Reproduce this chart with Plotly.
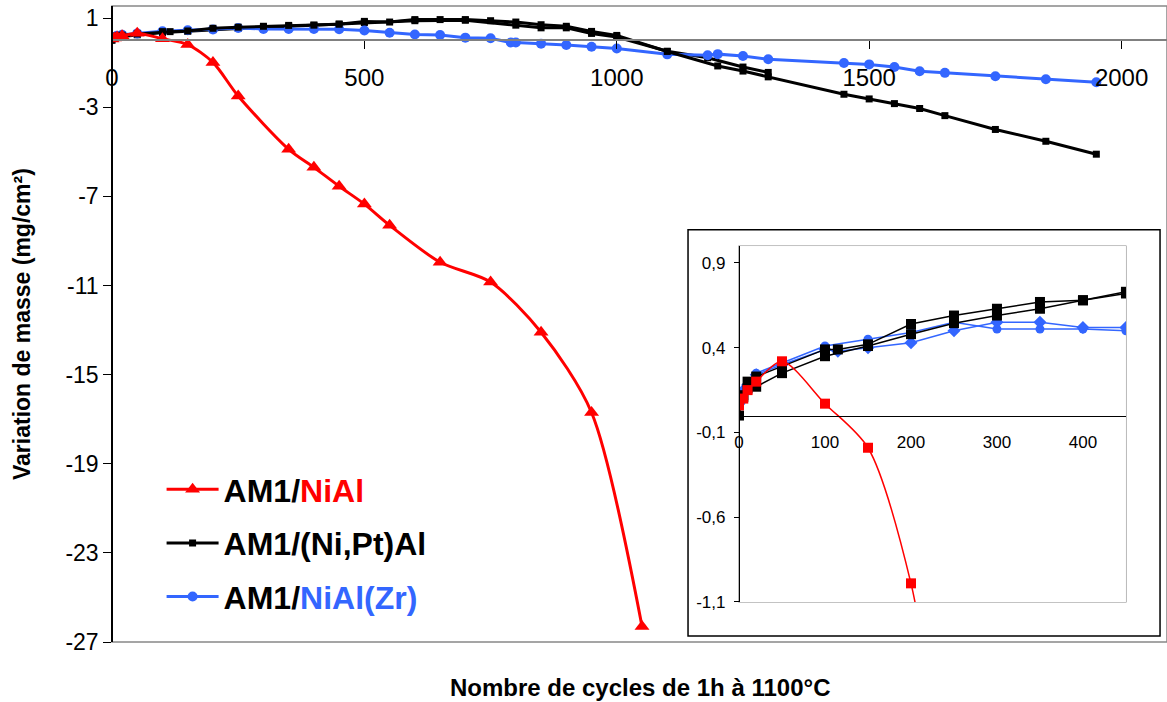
import plotly.graph_objects as go

# ---------------- data ----------------
cycles_nial = [0, 5, 10, 20, 50, 100, 150, 200, 250, 350, 400, 450, 500, 550, 650, 750, 850, 950, 1050]
mass_nial = [0.06, 0.1, 0.15, 0.2, 0.32, 0.07, -0.19, -0.99, -2.5, -4.89, -5.7, -6.55, -7.35, -8.3, -9.96, -10.85, -13.1, -16.7, -26.3]

cycles_pt_a = [0, 5, 10, 20, 50, 100, 115, 150, 200, 250, 300, 350, 400, 450, 500, 550, 600, 650, 700, 750,
               800, 850, 900, 950, 1000, 1100, 1200, 1250, 1300, 1450, 1500, 1550, 1600, 1650, 1750, 1850, 1950]
mass_pt_a = [0.0, 0.12, 0.2, 0.23, 0.29, 0.39, 0.39, 0.42, 0.54, 0.59, 0.63, 0.67, 0.68, 0.72, 0.85, 0.82, 0.93, 0.93, 0.93, 0.88,
             0.82, 0.7, 0.63, 0.4, 0.22, -0.5, -1.15, -1.38, -1.64, -2.42, -2.63, -2.84, -3.06, -3.38, -4.0, -4.53, -5.11]

cycles_pt_b = [0, 5, 10, 20, 50, 100, 150, 200, 250, 300, 350, 400, 450, 500, 600, 700, 800, 850, 900, 950, 1000, 1100, 1180, 1250, 1300]
mass_pt_b = [0.07, 0.11, 0.16, 0.17, 0.25, 0.35, 0.41, 0.48, 0.545, 0.59, 0.63, 0.68, 0.73, 0.8, 0.88, 0.9, 0.68, 0.56, 0.56, 0.31, 0.15, -0.49, -0.78, -1.2, -1.44]

cycles_zr_a = [0, 5, 10, 20, 50, 100, 150, 200, 250, 300, 350, 400, 450, 500, 550, 600, 650, 700, 750, 790, 800,
               850, 900, 950, 1000, 1100, 1180, 1200, 1250, 1300, 1450, 1500, 1550, 1600, 1650, 1750, 1850, 1950]
mass_zr_a = [0.075, 0.15, 0.2, 0.25, 0.31, 0.41, 0.45, 0.49, 0.55, 0.51, 0.51, 0.51, 0.5, 0.44, 0.34, 0.26, 0.24, 0.12, 0.09, -0.1, -0.1,
             -0.15, -0.21, -0.29, -0.37, -0.63, -0.67, -0.62, -0.7, -0.85, -1.02, -1.08, -1.2, -1.39, -1.46, -1.61, -1.75, -1.88]

cycles_zr_b = [0, 10, 20, 50, 100, 115, 150, 200, 250, 300, 350, 400, 450]
mass_zr_b = [0.07, 0.18, 0.24, 0.3, 0.39, 0.38, 0.4, 0.43, 0.5, 0.55, 0.55, 0.52, 0.52]

main_xticks = [0, 500, 1000, 1500, 2000]
main_yticks = [1, -3, -7, -11, -15, -19, -23, -27]
inset_xticks = [0, 100, 200, 300, 400]
inset_yticks = [0.9, 0.4, -0.1, -0.6, -1.1]
inset_yticktext = ["0,9", "0,4", "-0,1", "-0,6", "-1,1"]

names = ['AM1/<span style="color:#FF0000">NiAl</span>',
         'AM1/(Ni,Pt)Al',
         'AM1/<span style="color:#3366FF">NiAl(Zr)</span>']

RED = "#FF0000"
BLACK = "#000000"
BLUE = "#3366FF"
FONT = "Liberation Sans, Arial, sans-serif"

fig = go.Figure()

# ---------------- main chart ----------------
fig.add_trace(go.Scatter(x=cycles_pt_b, y=mass_pt_b, mode="lines+markers", showlegend=False, legendgroup="b",
                         line=dict(color=BLACK, width=3), marker=dict(symbol="square", size=7, color=BLACK)))
fig.add_trace(go.Scatter(x=cycles_zr_a, y=mass_zr_a, mode="lines+markers", name=names[2], legendgroup="c", legendrank=3,
                         line=dict(color=BLUE, width=3), marker=dict(symbol="circle", size=10, color=BLUE)))
fig.add_trace(go.Scatter(x=cycles_pt_a, y=mass_pt_a, mode="lines+markers", name=names[1], legendgroup="b", legendrank=2,
                         line=dict(color=BLACK, width=3), marker=dict(symbol="square", size=7, color=BLACK)))
fig.add_trace(go.Scatter(x=cycles_nial, y=mass_nial, mode="lines+markers", name=names[0], legendgroup="a", legendrank=1,
                         line=dict(color=RED, width=3, shape="spline", smoothing=0.8),
                         marker=dict(symbol="triangle-up", size=13, color=RED)))

# ---------------- inset ----------------
fig.add_trace(go.Scatter(x=cycles_zr_a, y=mass_zr_a, xaxis="x2", yaxis="y2", mode="lines+markers", showlegend=False,
                         legendgroup="c", line=dict(color=BLUE, width=1.5), marker=dict(symbol="circle", size=9, color=BLUE)))
fig.add_trace(go.Scatter(x=cycles_zr_b, y=mass_zr_b, xaxis="x2", yaxis="y2", mode="lines+markers", showlegend=False,
                         legendgroup="c", line=dict(color=BLUE, width=1.5), marker=dict(symbol="diamond", size=10, color=BLUE)))
fig.add_trace(go.Scatter(x=cycles_pt_a, y=mass_pt_a, xaxis="x2", yaxis="y2", mode="lines+markers", showlegend=False,
                         legendgroup="b", line=dict(color=BLACK, width=1.5), marker=dict(symbol="square", size=10, color=BLACK)))
fig.add_trace(go.Scatter(x=cycles_pt_b, y=mass_pt_b, xaxis="x2", yaxis="y2", mode="lines+markers", showlegend=False,
                         legendgroup="b", line=dict(color=BLACK, width=1.5), marker=dict(symbol="square", size=10, color=BLACK)))
fig.add_trace(go.Scatter(x=cycles_nial, y=mass_nial, xaxis="x2", yaxis="y2", mode="lines+markers", showlegend=False,
                         legendgroup="a", line=dict(color=RED, width=1.5, shape="spline", smoothing=0.8),
                         marker=dict(symbol="square", size=10, color=RED)))

ymin, ymax = -27, 1.54
x_axis_pos = (0 - ymin) / (ymax - ymin)

ix0, ix1 = 0.5943, 0.9611
iy0, iy1 = 0.0629, 0.6226
iymin, iymax = -1.1, 1.0
ix_axis_pos = iy0 + (0 - iymin) / (iymax - iymin) * (iy1 - iy0)

fig.update_layout(
    width=1167, height=702,
    margin=dict(l=112, r=0, t=6, b=60),
    plot_bgcolor="white", paper_bgcolor="white",
    font=dict(family=FONT, color="black"),
    xaxis=dict(range=[0, 2090], anchor="free", position=x_axis_pos, domain=[0, 1],
               showline=True, linecolor="#808080", linewidth=1.5,
               ticks="outside", ticklen=8, tickcolor="black", tickwidth=1,
               tickvals=main_xticks, ticktext=[str(v) for v in main_xticks],
               tickfont=dict(size=24), ticklabelstandoff=8,
               showgrid=False, zeroline=False),
    yaxis=dict(range=[ymin, ymax], domain=[0, 1], anchor="free", position=0,
               showline=True, linecolor="black", linewidth=1.5,
               ticks="outside", ticklen=8, tickcolor="black",
               tickvals=main_yticks, ticktext=[str(v) for v in main_yticks],
               tickfont=dict(size=23), showgrid=False, zeroline=False),
    xaxis2=dict(range=[0, 450], domain=[ix0, ix1], anchor="free", position=ix_axis_pos,
                showline=True, linecolor="black", linewidth=1.2, ticks="",
                tickvals=inset_xticks, ticktext=[str(v) for v in inset_xticks],
                tickfont=dict(size=17), ticklabelstandoff=11,
                showgrid=False, zeroline=False),
    yaxis2=dict(range=[iymin, iymax], domain=[iy0, iy1], anchor="free", position=ix0,
                showline=True, linecolor="black", linewidth=1.2,
                ticks="outside", ticklen=5, tickcolor="black",
                tickvals=inset_yticks, ticktext=inset_yticktext,
                tickfont=dict(size=17), ticklabelstandoff=5,
                showgrid=False, zeroline=False),
    legend=dict(x=0.047, y=0.283, xanchor="left", yanchor="top",
                font=dict(size=32, family=FONT, color="black", weight="bold"),
                bgcolor="rgba(0,0,0,0)", itemwidth=52, tracegroupgap=9,
                traceorder="grouped"),
    shapes=[
        dict(type="rect", xref="paper", yref="paper", x0=0, x1=1, y0=0, y1=1,
             line=dict(color="#888888", width=1.5), layer="below"),
        dict(type="rect", xref="paper", yref="paper", x0=0.546, x1=0.9934, y0=0.0094, y1=0.648,
             line=dict(color="black", width=1.5), fillcolor="white", layer="below"),
        dict(type="rect", xref="paper", yref="paper", x0=ix0, x1=ix1, y0=iy0, y1=iy1,
             line=dict(color="#888888", width=1.2), layer="below"),
    ],
    annotations=[
        dict(text="<b>Variation de masse (mg/cm²)</b>", xref="paper", yref="paper",
             x=-0.0853, y=0.5, xanchor="center", yanchor="middle", textangle=-90,
             showarrow=False, font=dict(size=23, color="black")),
        dict(text="<b>Nombre de cycles de 1h à 1100°C</b>", xref="paper", yref="paper",
             x=0.5, y=-0.0723, xanchor="center", yanchor="middle",
             showarrow=False, font=dict(size=24, color="black")),
    ],
)

fig.write_html("out.html", config={"displayModeBar": False},
               post_script="document.body.style.margin='0';document.body.style.overflow='hidden';")
